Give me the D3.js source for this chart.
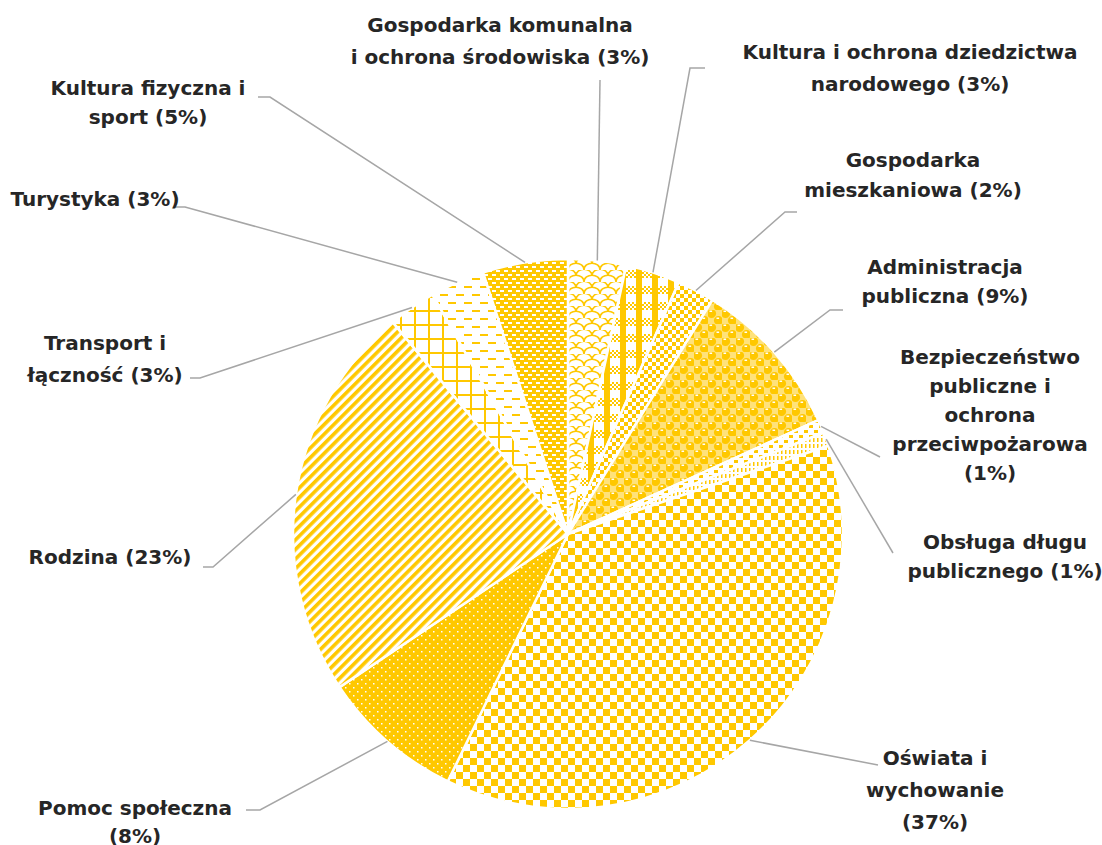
<!DOCTYPE html>
<html>
<head>
<meta charset="utf-8">
<script src="https://cdn.jsdelivr.net/npm/d3@7/dist/d3.min.js"></script>
<style>
  html, body { margin: 0; padding: 0; background: #ffffff; }
  svg { display: block; }
  .lbl { font-family: "Century Gothic", "DejaVu Sans", sans-serif; font-weight: 700; font-size: 20px; fill: #262626; }
</style>
</head>
<body>
<svg id="chart" width="1102" height="845"></svg>
<script>
// Budget expenditure by division, share of total (%), clockwise from 12 o'clock
const categories = [
  "Gospodarka komunalna i ochrona środowiska",
  "Kultura i ochrona dziedzictwa narodowego",
  "Gospodarka mieszkaniowa",
  "Administracja publiczna",
  "Bezpieczeństwo publiczne i ochrona przeciwpożarowa",
  "Obsługa długu publicznego",
  "Oświata i wychowanie",
  "Pomoc społeczna",
  "Rodzina",
  "Transport i łączność",
  "Turystyka",
  "Kultura fizyczna i sport"
];
const shares = [3.4, 3.2, 2.2, 9.4, 0.8, 0.8, 37.4, 8.4, 23.4, 2.8, 3.2, 5.0];

// Label text split into lines; {p} is replaced by the rounded share
const labelLines = [
  ["Gospodarka komunalna", "i ochrona środowiska ({p})"],
  ["Kultura i ochrona dziedzictwa", "narodowego ({p})"],
  ["Gospodarka", "mieszkaniowa ({p})"],
  ["Administracja", "publiczna ({p})"],
  ["Bezpieczeństwo", "publiczne i", "ochrona", "przeciwpożarowa", "({p})"],
  ["Obsługa długu", "publicznego ({p})"],
  ["Oświata i", "wychowanie", "({p})"],
  ["Pomoc społeczna", "({p})"],
  ["Rodzina ({p})"],
  ["Transport i", "łączność ({p})"],
  ["Turystyka ({p})"],
  ["Kultura fizyczna i", "sport ({p})"]
];

// Label placement: text centre x, first line centre y, line step; leader bend points
const labelLayout = [
  { x: 500, y: 25,  lh: 32, leader: [[600, 80]] },
  { x: 910, y: 52,  lh: 32, leader: [[690, 68], [705, 68]] },
  { x: 913, y: 160, lh: 30, leader: [[785, 212], [797, 212]] },
  { x: 945, y: 267, lh: 29, leader: [[830, 310], [843, 310]] },
  { x: 990, y: 357, lh: 29, leader: [[880, 457]] },
  { x: 1005, y: 542, lh: 29, leader: [[893, 553]] },
  { x: 935, y: 758, lh: 32, leader: [[878, 765]] },
  { x: 135, y: 808, lh: 28, leader: [[260, 810], [246, 810]] },
  { x: 110, y: 557, lh: 30, leader: [[213, 567], [203, 567]] },
  { x: 105, y: 343, lh: 32, leader: [[200, 378], [190, 378]] },
  { x: 95,  y: 199, lh: 30, leader: [[185, 207], [175, 207]] },
  { x: 148, y: 88,  lh: 29, leader: [[270, 97], [258, 97]] }
];

const gold = "#FFC800";
const svg = d3.select("#chart");
const defs = svg.append("defs");

function pat(id, w, h, draw, transform) {
  const p = defs.append("pattern").attr("id", id)
    .attr("patternUnits", "userSpaceOnUse").attr("width", w).attr("height", h);
  if (transform) p.attr("patternTransform", transform);
  draw(p);
}
const rect = (p, x, y, w, h, c) => p.append("rect").attr("x", x).attr("y", y).attr("width", w).attr("height", h).attr("fill", c);

// shingle
pat("p0", 16, 12, p => {
  rect(p, 0, 0, 16, 12, "#fff");
  p.append("path").attr("d", "M0,12 C0,3 16,3 16,12 M-8,6 C-8,-3 8,-3 8,6 M8,6 C8,-3 24,-3 24,6")
    .attr("fill", "none").attr("stroke", gold).attr("stroke-width", 1.6);
});
// plaid
pat("p1", 16, 16, p => {
  rect(p, 0, 0, 16, 16, "#fff");
  rect(p, 4, 0, 6, 16, gold);
  for (let y = 8; y < 16; y += 2)
    for (let x = 0; x < 16; x += 2)
      if (((x + y) / 2) % 2 === 0) rect(p, x, y, 2, 2, gold);
});
// small checker board
pat("p2", 8, 8, p => {
  rect(p, 0, 0, 8, 8, "#fff");
  rect(p, 0, 0, 4, 4, gold); rect(p, 4, 4, 4, 4, gold);
});
// sphere
pat("p3", 14, 14, p => {
  rect(p, 0, 0, 14, 14, "#fff");
  rect(p, 7, 0, 7, 7, "#FFE27A"); rect(p, 0, 7, 7, 7, "#FFE27A");
  [[3.5, 3.5], [10.5, 10.5]].forEach(([x0, y0]) => {
    p.append("circle").attr("cx", x0).attr("cy", y0).attr("r", 4.6).attr("fill", gold);
    rect(p, x0 - 2, y0 - 3, 2.6, 1.5, "#fff");
  });
  [[10.5, -3.5], [-3.5, 10.5], [17.5, 3.5], [3.5, 17.5]].forEach(([x0, y0]) => {
    p.append("circle").attr("cx", x0).attr("cy", y0).attr("r", 2).attr("fill", gold);
  });
});
// confetti dashes
pat("p4", 10, 10, p => {
  rect(p, 0, 0, 10, 10, "#fff");
  rect(p, 1, 1, 4, 3, gold); rect(p, 6, 6, 4, 3, gold);
});
// narrow vertical dashes
pat("p5", 4, 6, p => {
  rect(p, 0, 0, 4, 6, "#fff");
  rect(p, 1, 0, 1.5, 4, gold);
});
// large checker board
pat("p6", 14, 14, p => {
  rect(p, 0, 0, 14, 14, "#fff");
  rect(p, 0, 0, 7, 7, gold); rect(p, 7, 7, 7, 7, gold);
});
// dotted solid
pat("p7", 8, 8, p => {
  rect(p, 0, 0, 8, 8, gold);
  rect(p, 1, 1, 1.5, 1.5, "#fff"); rect(p, 5, 5, 1.5, 1.5, "#fff");
});
// wide upward diagonal
pat("p8", 6.8, 6.8, p => {
  rect(p, 0, 0, 6.8, 6.8, "#fff");
  rect(p, 0, 0, 3.6, 6.8, gold);
}, "rotate(45)");
// large grid
pat("p9", 14, 14, p => {
  rect(p, 0, 0, 14, 14, "#fff");
  rect(p, 0, 0, 2, 14, gold); rect(p, 0, 0, 14, 2, gold);
});
// dashed horizontal
pat("p10", 16, 16, p => {
  rect(p, 0, 0, 16, 16, "#fff");
  rect(p, 0, 0, 8, 2, gold); rect(p, 8, 8, 8, 2, gold);
});
// solid with white short dashes
pat("p11", 8, 8, p => {
  rect(p, 0, 0, 8, 8, gold);
  rect(p, 0, 0, 4, 2, "#fff"); rect(p, 4, 4, 4, 2, "#fff");
});

const cx = 568, cy = 534, R = 275;
const g = svg.append("g").attr("transform", `translate(${cx},${cy})`);

const pie = d3.pie().sort(null).value(d => d);
const arcs = pie(shares);
const arc = d3.arc().innerRadius(0).outerRadius(R);

g.selectAll("path.slice").data(arcs).join("path")
  .attr("class", "slice")
  .attr("d", arc)
  .attr("fill", (d, i) => `url(#p${i})`)
  .attr("stroke", "#fff")
  .attr("stroke-width", 2.5)
  .attr("stroke-linejoin", "round");

const total = d3.sum(shares);

// leader lines from the slice rim at mid-angle to the label
const leaders = svg.append("g");
arcs.forEach((a, i) => {
  const mid = (a.startAngle + a.endAngle) / 2;
  const p0 = [cx + R * Math.sin(mid), cy - R * Math.cos(mid)];
  const pts = [p0].concat(labelLayout[i].leader);
  leaders.append("path")
    .attr("d", d3.line()(pts))
    .attr("fill", "none")
    .attr("stroke", "#A6A6A6")
    .attr("stroke-width", 1.5);
});

const labels = svg.append("g");
labelLines.forEach((lines, i) => {
  const L = labelLayout[i];
  const pct = Math.round(shares[i] / total * 100) + "%";
  const t = labels.append("text").attr("class", "lbl").attr("text-anchor", "middle");
  lines.forEach((ln, j) => {
    t.append("tspan").attr("x", L.x).attr("y", L.y + j * L.lh)
      .attr("dy", "0.35em").text(ln.replace("{p}", pct));
  });
});
</script>
</body>
</html>
